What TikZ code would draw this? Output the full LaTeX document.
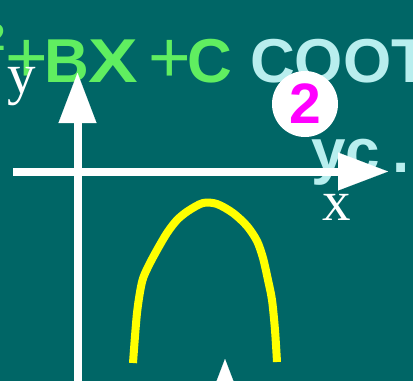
\documentclass[tikz,border=0pt]{standalone}
\usepackage{fontspec}
\setmainfont{Liberation Sans}
\newfontfamily\labelserif{Liberation Serif}
\usetikzlibrary{arrows.meta}
\definecolor{bgteal}{HTML}{006666}
\definecolor{eqgreen}{HTML}{60EE60}
\definecolor{palecyan}{HTML}{B8EEEE}
\definecolor{badgemag}{HTML}{FF00FF}
\definecolor{curveyellow}{HTML}{FFFF00}
\begin{document}
\begin{tikzpicture}[x=1pt,y=-1pt,
  bigtext/.style={anchor=base west,inner sep=0pt,font=\fontsize{62}{62}\selectfont\bfseries},
  eqletter/.style={anchor=base,inner sep=0pt,text=eqgreen,font=\fontsize{62}{62}\selectfont\bfseries},
  eqplus/.style={anchor=base,inner sep=0pt,text=eqgreen,font=\fontsize{73}{73}\selectfont\mdseries},
  axislabel/.style={anchor=base west,inner sep=0pt,text=white,font=\labelserif\fontsize{57}{57}\selectfont},
  axisarrow/.style={draw=white,line width=8pt,-{Triangle[length=50pt,width=38pt,line width=0.1pt]}},
  curveline/.style={draw=curveyellow,line width=8pt,line cap=butt,line join=round}]
\useasboundingbox (0,0) rectangle (413,381);
\clip (0,0) rectangle (413,381);
\fill[bgteal] (0,0) rectangle (413,381);
% header text
\node[anchor=base east,inner sep=0pt,text=eqgreen,font=\fontsize{38}{38}\selectfont\bfseries] (sup) at (5.5,50) {2};
\node[eqplus] (plusa) at (26.5,82) {+};
\node[eqletter] (lb) at (66.5,82) {B};
\node[eqletter] (lx) at (113,82) {\scalebox{1.2}[1]{X}};
\node[eqplus] (plusb) at (170,82) {+};
\node[eqletter] (lc) at (209.5,82) {C};
\node[bigtext,text=palecyan] (coot) at (250,82) {COOT};
\node[bigtext,text=palecyan] (yc) at (311,172) {yc\kern12pt.};
% badge
\node[circle,fill=white,minimum size=66pt,inner sep=0pt,text=badgemag,font=\fontsize{57}{57}\selectfont\bfseries] (badge) at (305,104) {2};
% curve
\draw[curveline] plot[smooth,tension=0.5] coordinates {(133,363) (137,313) (142,282) (148,267) (157,250) (167,233) (177,220) (188,211) (203,203) (217,204) (233,213) (247,226) (257,241) (263,258) (268,280) (272,300) (275,330) (277,362)};
% axes
\coordinate (yfoot) at (77.5,395);
\coordinate (ytip) at (77.5,73);
\coordinate (xfoot) at (13,171.5);
\coordinate (xtip) at (388,171.5);
\coordinate (bfoot) at (225,480);
\coordinate (btip) at (225,359);
\draw[axisarrow] (yfoot) -- (ytip);
\draw[axisarrow] (xfoot) -- (xtip);
\draw[axisarrow] (bfoot) -- (btip);
% axis labels
\node[axislabel] (ylab) at (7,93) {y};
\node[axislabel] (xlab) at (322,220) {x};
\end{tikzpicture}
\end{document}
